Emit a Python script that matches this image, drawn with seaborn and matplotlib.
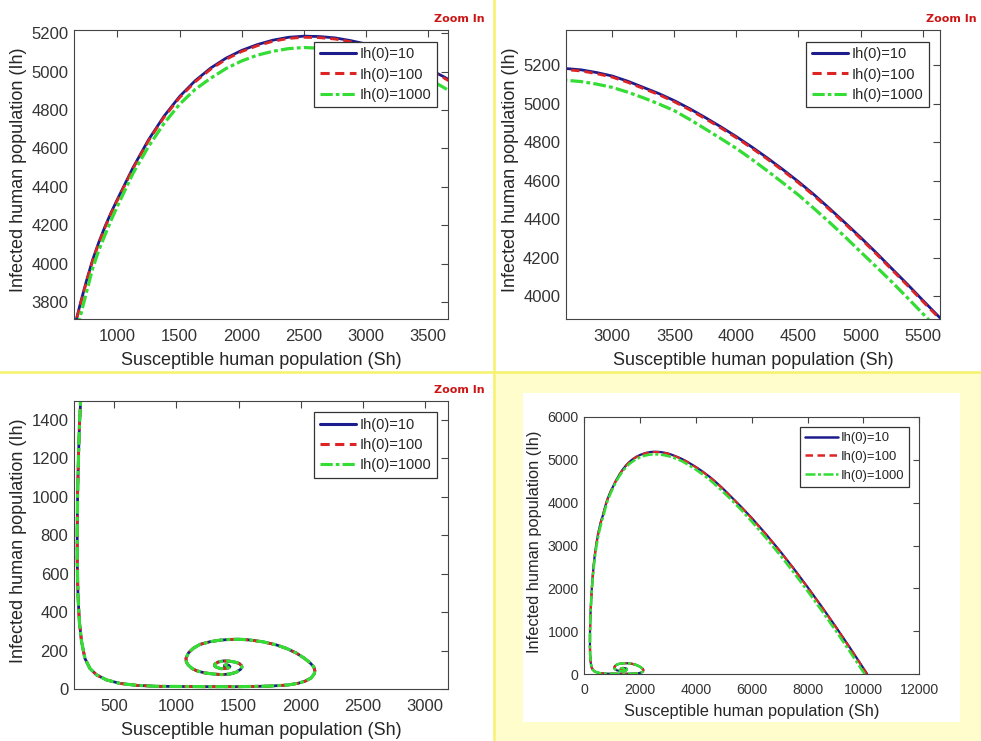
import matplotlib
matplotlib.use("Agg")
import matplotlib.pyplot as plt
import seaborn as sns
import pandas as pd
from matplotlib.patches import Rectangle
from matplotlib.lines import Line2D

# ---------------- data ----------------
series_labels = ["Ih(0)=10", "Ih(0)=100", "Ih(0)=1000"]

# common lower part of the trajectory (all three curves coincide here)
tail_sh = [219, 211, 205, 202, 202, 208, 219, 237, 264, 304, 358, 439, 546, 680, 841,
           1000, 1250, 1500, 1750, 1900, 1980, 2040, 2085, 2108, 2114, 2105, 2074, 2025,
           1967, 1890, 1806, 1700, 1592, 1500, 1431, 1350, 1270, 1190, 1136, 1097, 1077,
           1080, 1095, 1125, 1162, 1225, 1297, 1370, 1431, 1480, 1516, 1527, 1524, 1505,
           1471, 1425, 1377, 1335, 1310, 1308, 1323, 1355, 1390, 1420, 1431, 1422, 1405,
           1390, 1385]
tail_ih = [1357, 1183, 1010, 836, 663, 489, 350, 246, 159, 107, 73, 47, 29, 19, 14,
           13, 12, 12, 15, 21, 30, 42, 58, 78, 95, 115, 137, 162,
           186, 210, 229, 245, 255, 259, 258, 254, 246, 232, 212, 188, 160,
           140, 125, 107, 95, 84, 78, 75, 78, 87, 102, 113, 121, 133,
           140, 145, 146, 140, 130, 120, 113, 106, 106, 110, 116, 123, 126,
           124, 120]

sh_10 = [10130, 10000, 9500, 9000, 8500, 8000, 7500, 7000, 6500, 6000, 5640, 5500, 5375,
         5250, 5125, 5000, 4875, 4750, 4625, 4500, 4375, 4250, 4125, 4000, 3875, 3750,
         3625, 3500, 3375, 3250, 3125, 3000, 2875, 2750, 2625, 2500, 2375, 2250, 2125,
         2000, 1875, 1750, 1625, 1500, 1375, 1250, 1125, 1000, 950, 900, 850, 800, 750,
         700, 665, 615, 572, 488, 422, 371, 330, 297, 270, 248, 229]
ih_10 = [10, 140, 635, 1115, 1580, 2030, 2465, 2880, 3270, 3640, 3887, 3979, 4063,
         4144, 4226, 4305, 4381, 4455, 4527, 4594, 4657, 4717, 4774, 4828, 4879, 4927,
         4973, 5015, 5052, 5084, 5116, 5143, 5161, 5175, 5182, 5184, 5178, 5163, 5140,
         5110, 5070, 5018, 4952, 4870, 4768, 4645, 4500, 4336, 4268, 4194, 4112, 4020, 3910,
         3790, 3700, 3600, 3500, 3250, 3000, 2750, 2500, 2250, 2000, 1750, 1500]

sh_100 = [10120, 10000, 9500, 9000, 8500, 8000, 7500, 7000, 6500, 6000, 5640, 5500, 5375,
          5250, 5125, 5000, 4875, 4750, 4625, 4500, 4375, 4250, 4125, 4000, 3875, 3750,
          3625, 3500, 3375, 3250, 3125, 3000, 2875, 2750, 2625, 2500, 2375, 2250, 2125,
          2000, 1875, 1750, 1625, 1500, 1375, 1250, 1125, 1000, 950, 900, 850, 800, 750,
          700, 667, 617, 574, 490, 423, 372, 331, 298, 270, 248, 229]
ih_100 = [10, 132, 628, 1108, 1573, 2023, 2458, 2873, 3263, 3633, 3881, 3973, 4057,
          4138, 4220, 4299, 4375, 4449, 4521, 4588, 4651, 4711, 4768, 4822, 4873, 4921,
          4967, 5009, 5046, 5078, 5110, 5137, 5155, 5169, 5176, 5178, 5172, 5157, 5134,
          5104, 5064, 5012, 4946, 4864, 4762, 4640, 4495, 4331, 4263, 4189, 4107, 4015, 3905,
          3785, 3700, 3600, 3500, 3250, 3000, 2750, 2500, 2250, 2000, 1750, 1500]

sh_1000 = [10040, 9900, 9500, 9000, 8500, 8000, 7500, 7000, 6500, 6000, 5640, 5500, 5375,
           5250, 5125, 5000, 4875, 4750, 4625, 4500, 4375, 4250, 4125, 4000, 3875, 3750,
           3625, 3500, 3375, 3250, 3125, 3000, 2875, 2750, 2625, 2500, 2375, 2250, 2125,
           2000, 1875, 1750, 1625, 1500, 1375, 1250, 1125, 1000, 950, 900, 850, 800, 750,
           690, 640, 600, 510, 440, 385, 340, 303, 274, 249, 229]
ih_1000 = [10, 145, 541, 1021, 1486, 1936, 2371, 2786, 3181, 3556, 3815, 3910, 3993,
           4075, 4153, 4230, 4308, 4383, 4455, 4525, 4588, 4650, 4710, 4767, 4818, 4868,
           4917, 4963, 4998, 5030, 5059, 5084, 5101, 5114, 5121, 5125, 5119, 5105, 5085,
           5055, 5016, 4965, 4907, 4830, 4730, 4610, 4470, 4300, 4228, 4150, 4070, 3975, 3850,
           3700, 3600, 3500, 3250, 3000, 2750, 2500, 2250, 2000, 1750, 1500]

# ---------------- styling ----------------
sns.set_style("white")
plt.rcParams["font.family"] = ["Liberation Sans", "DejaVu Sans"]

colors = ["#1c1c8c", "#dd2424", "#33dd33"]
dashes = [None, (3.0, 1.8), (4.0, 1.0, 1.2, 1.0)]
styles = ["-", "--", "-."]

curves = [
    (series_labels[0], sh_10 + tail_sh, ih_10 + tail_ih),
    (series_labels[1], sh_100 + tail_sh, ih_100 + tail_ih),
    (series_labels[2], sh_1000 + tail_sh, ih_1000 + tail_ih),
]

W, H = 981, 741
fig = plt.figure(figsize=(W / 100, H / 100), dpi=100)
fig.patch.set_facecolor("white")

# pale yellow background for the bottom-right panel + white plot card
fig.add_artist(Rectangle((496 / W, 0), 1 - 496 / W, 1 - 372 / H, transform=fig.transFigure,
                         facecolor="#fffdcc", edgecolor="none", zorder=0))
fig.add_artist(Rectangle((522.7 / W, 1 - 721.7 / H), (960 - 522.7) / W, (721.7 - 392.7) / H,
                         transform=fig.transFigure, facecolor="white", edgecolor="none", zorder=0))
# yellow separators
fig.add_artist(Line2D([494.5 / W, 494.5 / W], [0, 1], transform=fig.transFigure,
                      color="#f7f26a", lw=1.8, zorder=1))
fig.add_artist(Line2D([0, 1], [1 - 371.5 / H, 1 - 371.5 / H], transform=fig.transFigure,
                      color="#f7f26a", lw=1.8, zorder=1))


def px_axes(l, t, r, b):
    return fig.add_axes([l / W, 1 - b / H, (r - l) / W, (b - t) / H])


panels = [
    dict(box=(74, 30, 448, 319), xlim=(650, 3660), ylim=(3712, 5216),
         xt=range(1000, 3501, 500), yt=range(3800, 5201, 200), big=True),
    dict(box=(565.7, 30, 940, 319), xlim=(2625, 5640), ylim=(3881, 5382),
         xt=range(3000, 5501, 500), yt=range(4000, 5201, 200), big=True),
    dict(box=(74, 400.7, 448, 689), xlim=(176, 3185), ylim=(0, 1500),
         xt=range(500, 3001, 500), yt=range(0, 1401, 200), big=True),
    dict(box=(584.3, 416.7, 919.3, 674.3), xlim=(0, 12000), ylim=(0, 6000),
         xt=range(0, 12001, 2000), yt=range(0, 6001, 1000), big=False),
]

for p in panels:
    ax = px_axes(*p["box"])
    ax.set_facecolor("white")
    lw = 2.0 if p["big"] else 1.6
    for i, ((lab, xs, ys), c, ls, d) in enumerate(zip(curves, colors, styles, dashes)):
        df = pd.DataFrame({"Sh": xs, "Ih": ys})
        sns.lineplot(data=df, x="Sh", y="Ih", sort=False, estimator=None, ax=ax,
                     color=c, linestyle=ls, lw=lw * (1.15 if i == 2 else 1.0), label=lab)
        line = ax.get_lines()[-1]
        if d is not None:
            line.set_dashes(d)
    ax.set_xlim(*p["xlim"])
    ax.set_ylim(*p["ylim"])
    ax.set_xticks(list(p["xt"]))
    ax.set_yticks(list(p["yt"]))
    tfs = 12 if p["big"] else 10.2
    lfs = 13 if p["big"] else 11.8
    gfs = 10.5 if p["big"] else 9.4
    ax.tick_params(direction="in", top=True, right=True, length=5 if p["big"] else 4,
                   width=0.8, color="#444444", labelcolor="#333333", labelsize=tfs, pad=4)
    ax.tick_params(axis="x", pad=7 if p["big"] else 6)
    for s in ax.spines.values():
        s.set_color("#444444")
        s.set_linewidth(0.8)
        s.set_visible(True)
    ax.set_xlabel("Susceptible human population (Sh)", fontsize=lfs, color="#262626")
    ax.set_ylabel("Infected human population (Ih)", fontsize=lfs, color="#262626")
    ax.xaxis.label.set_va("center")
    ax.yaxis.label.set_va("center")
    ax.xaxis.set_label_coords(0.5, -0.143)
    ax.yaxis.set_label_coords(-0.148, 0.515)
    leg = ax.legend(loc="upper right", bbox_to_anchor=(0.97, 0.96), borderaxespad=0,
                    fontsize=gfs, frameon=True, fancybox=False, framealpha=1,
                    handlelength=2.5, handletextpad=0.2, borderpad=0.4,
                    labelspacing=0.42 if p["big"] else 0.5)
    leg.get_frame().set_edgecolor("#333333")
    leg.get_frame().set_linewidth(0.9)
    for h in leg.get_lines():
        h.set_linewidth(2.2 if p["big"] else 1.8)

# "Zoom In" tags
for x, y in [(485, 19), (977, 19), (485, 390)]:
    fig.text(x / W, 1 - y / H, "Zoom In", color="#cc1515", fontsize=8,
             fontweight="bold", ha="right", va="center",
             family=["DejaVu Sans"])

fig.savefig("out.png", dpi=100)
